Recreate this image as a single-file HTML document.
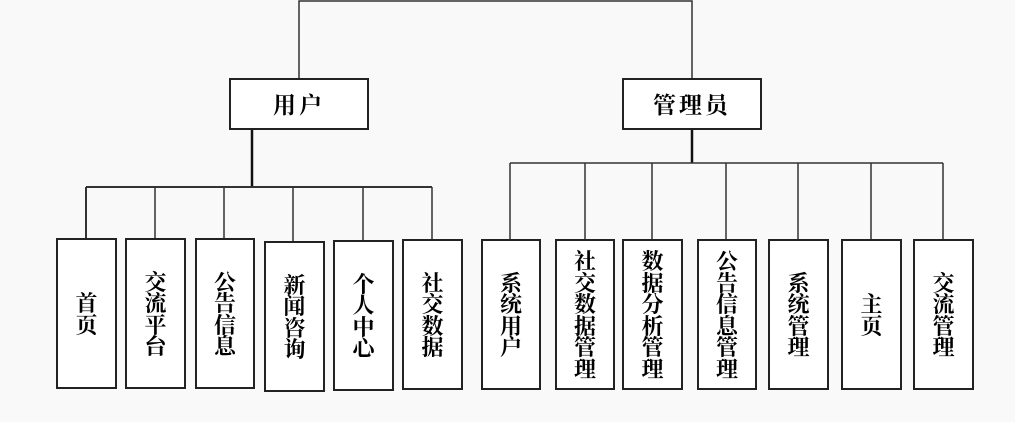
<!DOCTYPE html>
<html><head><meta charset="utf-8"><style>
body{margin:0;background:#f9f9f9;}
#c{position:relative;width:1015px;height:422px;overflow:hidden;}
svg{position:absolute;left:0;top:0;}
.b{position:absolute;box-sizing:border-box;border:2px solid #222;background:#fff;display:flex;align-items:center;justify-content:center;text-align:center;font-family:"Noto Serif CJK SC","Liberation Serif",serif;font-weight:bold;font-size:22px;line-height:21.5px;color:#000;}
.h{letter-spacing:3px;font-size:23px;}
</style></head><body><div id="c">
<svg width="1015" height="422">
<g stroke="#333" stroke-width="1.5" fill="none">
<polyline points="299,78 299,1 692,1 692,78"/>
<line x1="252" y1="129" x2="252" y2="187" stroke-width="2.5" stroke="#111"/>
<line x1="86" y1="187" x2="432" y2="187" stroke-width="2"/>
<line x1="86" y1="187" x2="86" y2="238" stroke-width="2"/>
<line x1="155" y1="187" x2="155" y2="238"/>
<line x1="224" y1="187" x2="224" y2="238"/>
<line x1="293" y1="187" x2="293" y2="241"/>
<line x1="363" y1="187" x2="363" y2="240"/>
<line x1="432" y1="187" x2="432" y2="239"/>
<line x1="692" y1="129" x2="692" y2="163" stroke-width="2.5" stroke="#111"/>
<line x1="510" y1="163" x2="943" y2="163"/>
<line x1="510" y1="163" x2="510" y2="239"/>
<line x1="585" y1="163" x2="585" y2="239"/>
<line x1="652" y1="163" x2="652" y2="239"/>
<line x1="726" y1="163" x2="726" y2="239"/>
<line x1="798" y1="163" x2="798" y2="239"/>
<line x1="871" y1="163" x2="871" y2="239"/>
<line x1="943" y1="163" x2="943" y2="239"/>
</g></svg>
<div class="b h" style="left:229px;top:78px;width:140px;height:52px;">用户</div>
<div class="b h" style="left:622px;top:78px;width:140px;height:52px;">管理员</div>

<div class="b" style="left:56px;top:238px;width:61px;height:151px;">首<br>页</div>
<div class="b" style="left:125px;top:238px;width:61px;height:151px;">交<br>流<br>平<br>台</div>
<div class="b" style="left:195px;top:238px;width:60px;height:151px;">公<br>告<br>信<br>息</div>
<div class="b" style="left:264px;top:241px;width:61px;height:151px;">新<br>闻<br>咨<br>询</div>
<div class="b" style="left:333px;top:240px;width:61px;height:151px;">个<br>人<br>中<br>心</div>
<div class="b" style="left:402px;top:239px;width:61px;height:151px;">社<br>交<br>数<br>据</div>

<div class="b" style="left:481px;top:239px;width:60px;height:151px;">系<br>统<br>用<br>户</div>
<div class="b" style="left:555px;top:239px;width:60px;height:151px;">社<br>交<br>数<br>据<br>管<br>理</div>
<div class="b" style="left:622px;top:239px;width:61px;height:151px;">数<br>据<br>分<br>析<br>管<br>理</div>
<div class="b" style="left:697px;top:239px;width:60px;height:151px;">公<br>告<br>信<br>息<br>管<br>理</div>
<div class="b" style="left:768px;top:239px;width:61px;height:151px;">系<br>统<br>管<br>理</div>
<div class="b" style="left:841px;top:239px;width:61px;height:151px;">主<br>页</div>
<div class="b" style="left:913px;top:239px;width:61px;height:151px;">交<br>流<br>管<br>理</div>
</div></body></html>
